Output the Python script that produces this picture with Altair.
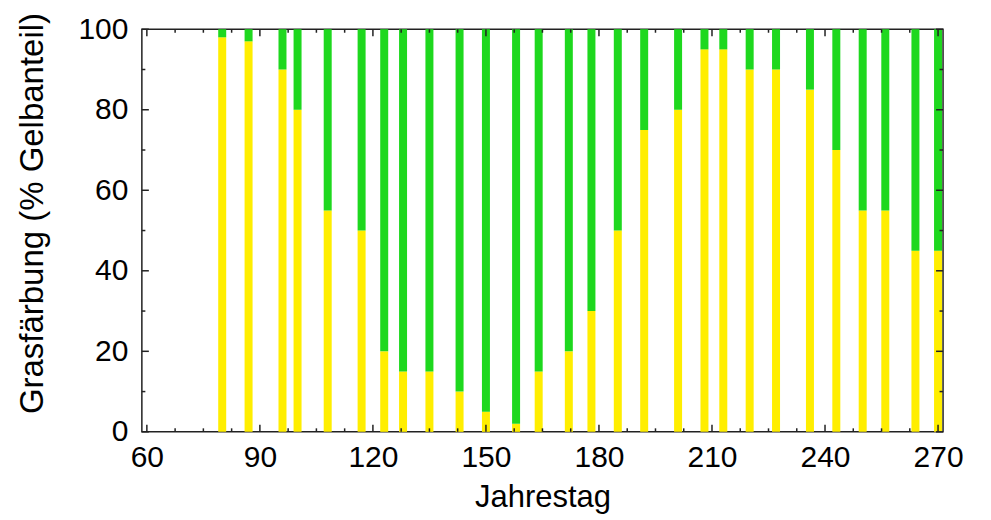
import altair as alt
import pandas as pd

# ---- data ----
days = [80, 87, 96, 100, 108, 117, 123, 128, 135, 143, 150, 158, 164, 172,
        178, 185, 192, 201, 208, 213, 220, 227, 236, 243, 250, 256, 264, 270]
yellow_pct = [98, 97, 90, 80, 55, 50, 20, 15, 15, 10, 5, 2, 15, 20,
              30, 50, 75, 80, 95, 95, 90, 90, 85, 70, 55, 55, 45, 45]
series = ["Gelb", "Grün"]
series_colors = ["#FFEE00", "#1ED81E"]

x_major = [60, 90, 120, 150, 180, 210, 240, 270]
x_minor = [67.5, 75, 82.5, 97.5, 105, 112.5, 127.5, 135, 142.5, 157.5, 165,
           172.5, 187.5, 195, 202.5, 217.5, 225, 232.5, 247.5, 255, 262.5]
y_major = [0, 20, 40, 60, 80, 100]
y_minor = [10, 30, 50, 70, 90]

W, H = 802, 403
AX = "#222222"
FONT = "Liberation Sans"

rows = []
for d, v in zip(days, yellow_pct):
    rows.append({"Tag": d, "Anteil": v, "Farbe": series[0], "ord": 0})
    rows.append({"Tag": d, "Anteil": 100 - v, "Farbe": series[1], "ord": 1})
df = pd.DataFrame(rows)

xs = alt.Scale(domain=[60, 270], nice=False, zero=False)
ys = alt.Scale(domain=[0, 100], nice=False)

bars = alt.Chart(df).mark_bar(size=8).encode(
    x=alt.X("Tag:Q", scale=xs,
            axis=alt.Axis(values=x_major, title="Jahrestag", domain=False,
                          ticks=False, tickSize=0, labelPadding=11,
                          titlePadding=10, titleFontSize=31, grid=False,
                          labelFont=FONT, labelFontSize=30, labelColor="#000000",
                          titleFont=FONT, titleFontWeight="normal",
                          titleColor="#000000")),
    y=alt.Y("Anteil:Q", stack="zero", scale=ys,
            axis=alt.Axis(values=y_major, title="Grasfärbung (% Gelbanteil)",
                          domain=False, ticks=False, tickSize=0,
                          labelPadding=14, titlePadding=28, titleFontSize=33,
                          titleY=184, grid=False,
                          labelFont=FONT, labelFontSize=30, labelColor="#000000",
                          titleFont=FONT, titleFontWeight="normal",
                          titleColor="#000000")),
    color=alt.Color("Farbe:N", scale=alt.Scale(domain=series, range=series_colors),
                    legend=None),
    order=alt.Order("ord:Q", sort="ascending"),
)


def xticks(vals, length, bottom):
    d = pd.DataFrame({"Tag": vals})
    if bottom:
        yy, yy2 = alt.value(H), alt.value(H - length)
    else:
        yy, yy2 = alt.value(0), alt.value(length)
    return alt.Chart(d).mark_rule(color=AX, strokeWidth=1.5).encode(
        x=alt.X("Tag:Q", scale=xs), y=yy, y2=yy2)


def yticks(vals, length, left):
    d = pd.DataFrame({"Anteil": vals})
    if left:
        xx, xx2 = alt.value(0), alt.value(length)
    else:
        xx, xx2 = alt.value(W), alt.value(W - length)
    return alt.Chart(d).mark_rule(color=AX, strokeWidth=1.5).encode(
        y=alt.Y("Anteil:Q", scale=ys), x=xx, x2=xx2)


chart = alt.layer(
    bars,
    xticks(x_major, 7, True), xticks(x_minor, 3.5, True),
    xticks(x_major, 7, False), xticks(x_minor, 3.5, False),
    yticks(y_major, 7, True), yticks(y_minor, 3.5, True),
    yticks(y_major, 7, False), yticks(y_minor, 3.5, False),
).properties(
    width=W, height=H,
    background="white",
    autosize=alt.AutoSizeParams(type="none"),
    padding={"left": 134, "top": 21, "right": 40, "bottom": 88},
).configure_view(
    stroke=AX, strokeWidth=1.5
)

chart.save("out.html", embed_options={"renderer": "svg", "actions": False})
